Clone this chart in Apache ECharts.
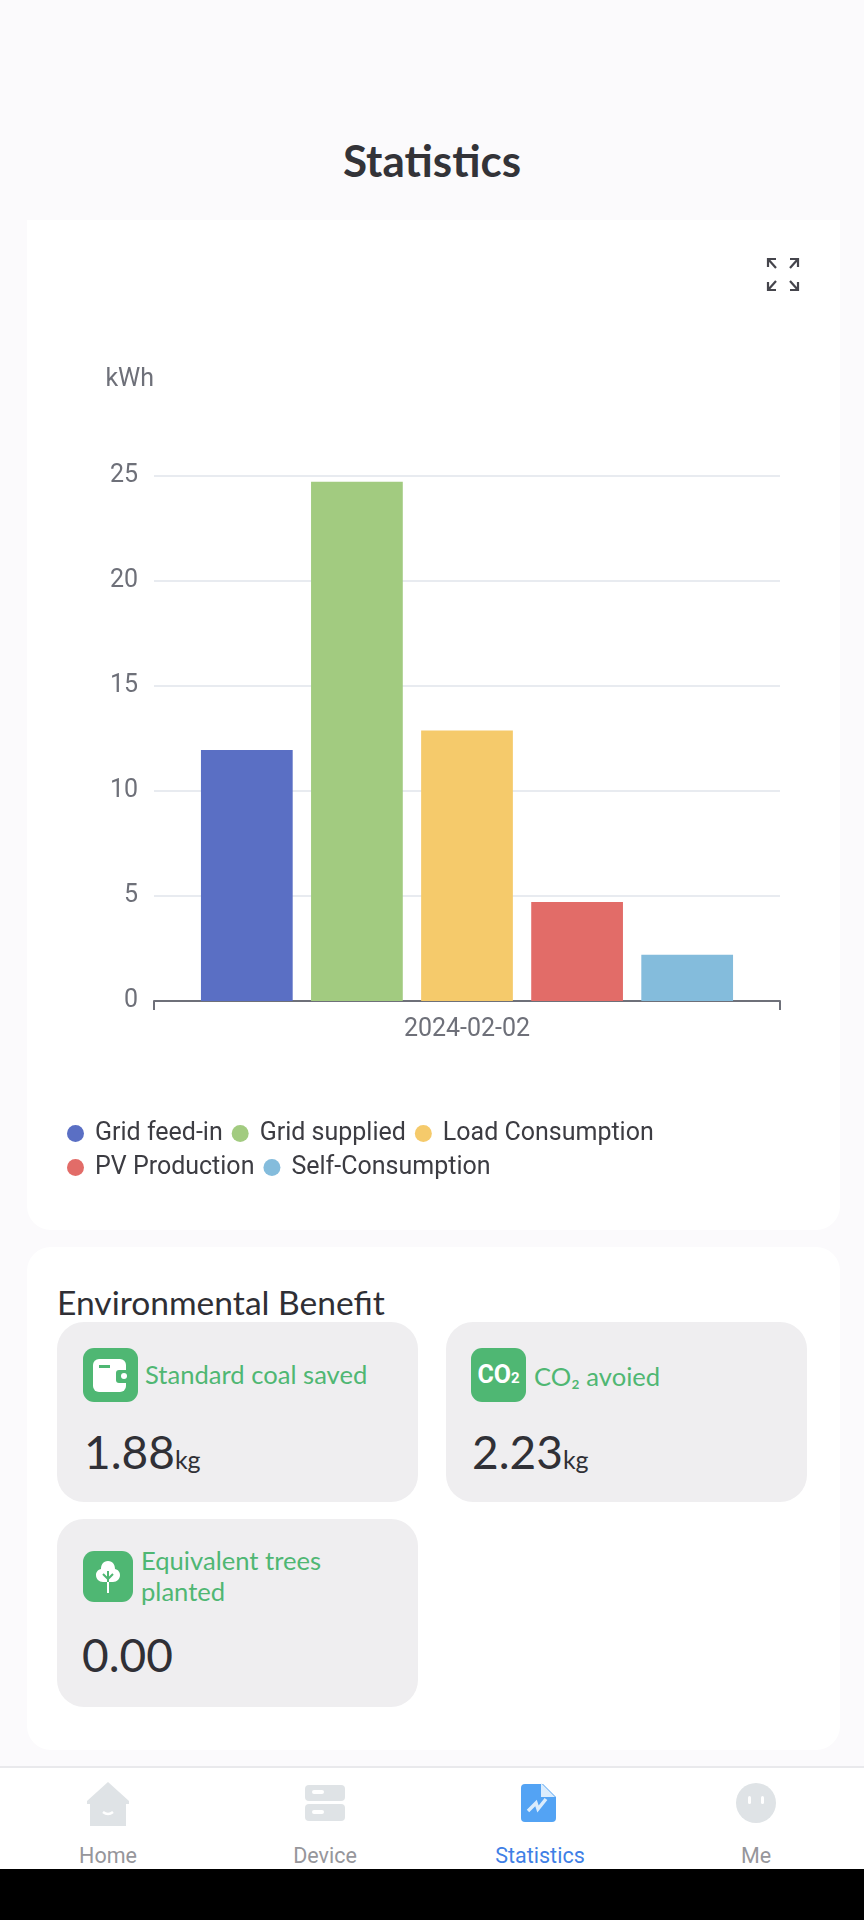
<!DOCTYPE html>
<html>
<head>
<meta charset="utf-8">
<title>Statistics</title>
<script src="https://cdn.jsdelivr.net/npm/echarts@6/dist/echarts.min.js"></script>
<style>
html,body{margin:0;padding:0;background:#fbfafc;}
body{position:relative;width:864px;height:1920px;overflow:hidden;font-family:Lato,sans-serif;color:#303036;}
.abs{position:absolute;white-space:nowrap;}
#title{left:0;width:864px;top:133px;text-align:center;font-size:44px;font-weight:700;line-height:54px;color:#333338;}
#chartCard{position:absolute;left:27px;top:220px;width:813px;height:1010px;background:#fff;border-radius:0 0 24px 24px;}
#graph{width:813px;height:1010px;}
#benefitCard{position:absolute;left:27px;top:1247px;width:813px;height:503px;background:#fff;border-radius:24px;}
#benefitTitle{left:57px;top:1282px;font-size:33.6px;line-height:40px;color:#2f2f35;}
.tile{position:absolute;background:#efeef0;border-radius:27px;}
.icon{position:absolute;background:#4fb773;border-radius:11px;}
.lbl{font-size:25.6px;line-height:31px;color:#4fb773;}
.val{font-size:46px;line-height:60px;color:#303036;}
.val span{font-size:25px;}
#nav{position:absolute;left:0;top:1766px;width:864px;height:103px;background:#fff;border-top:2px solid #e9e9ec;box-sizing:border-box;}
#black{position:absolute;left:0;top:1869px;width:864px;height:51px;background:#000;}
.navt{width:160px;text-align:center;top:1842px;font:21.5px/28px Roboto,sans-serif;color:#96969b;}
</style>
</head>
<body>
<div class="abs" id="title">Statistics</div>

<div id="chartCard"><div id="graph"></div></div>
<svg class="abs" style="left:765px;top:256px" width="36" height="37" viewBox="0 0 36 37" fill="none" stroke="#45454c" stroke-width="2.2">
  <path d="M3 11V3h8M3 3l8 9"/><path d="M33 11V3h-8M33 3l-8 9"/>
  <path d="M3 26v8h8M3 34l8-9"/><path d="M33 26v8h-8M33 34l-8-9"/>
</svg>

<div id="benefitCard"></div>
<div class="abs" id="benefitTitle">Environmental Benefit</div>

<div class="tile" style="left:57px;top:1322px;width:361px;height:180px"></div>
<div class="tile" style="left:446px;top:1322px;width:361px;height:180px"></div>
<div class="tile" style="left:57px;top:1519px;width:361px;height:188px"></div>

<div class="icon" style="left:83px;top:1348px;width:55px;height:54px">
  <svg width="55" height="54" viewBox="0 0 55 54"><rect x="10" y="11" width="33" height="33" rx="6" fill="#fff"/><rect x="16" y="17" width="11" height="3" fill="#4fb773"/><rect x="33" y="22" width="16" height="13" rx="3" fill="#4fb773"/><circle cx="41" cy="28" r="3" fill="#fff"/></svg>
</div>
<div class="icon" style="left:471px;top:1348px;width:55px;height:54px;color:#fff;font:700 25px/54px 'Liberation Sans Narrow',Roboto,sans-serif;text-align:center">CO<span style="font-size:15px">2</span></div>
<div class="icon" style="left:83px;top:1551px;width:50px;height:51px">
  <svg width="50" height="51" viewBox="0 0 50 51"><path d="M25 10c5 0 7 4 7 8 4 1 5 4 5 6 0 4-3 7-7 7H20c-4 0-7-3-7-7 0-2 1-5 5-6 0-4 2-8 7-8z" fill="#fff"/><path d="M25 20v22" stroke="#4fb773" stroke-width="2"/><path d="M25 31v11" stroke="#fff" stroke-width="2"/><path d="M20 23l5 5 5-5" fill="none" stroke="#4fb773" stroke-width="2"/></svg>
</div>

<div id="benefits"></div>

<div id="nav"></div>
<svg class="abs" style="left:84px;top:1780px" width="48" height="46" viewBox="0 0 48 46"><path d="M24 2L45 21v3h-3v22H6V24H3v-3z" fill="#dfe3e6"/><path d="M19 32q5 4 10 0" stroke="#fff" stroke-width="2.5" fill="none"/></svg>
<svg class="abs" style="left:304px;top:1784px" width="42" height="38" viewBox="0 0 42 38"><rect x="1" y="1" width="40" height="16" rx="4" fill="#dfe3e6"/><rect x="1" y="20" width="40" height="17" rx="4" fill="#dfe3e6"/><rect x="8" y="6" width="12" height="4" rx="2" fill="#fff"/><rect x="8" y="26" width="12" height="4" rx="2" fill="#fff"/></svg>
<svg class="abs" style="left:520px;top:1783px" width="40" height="40" viewBox="0 0 40 40"><path d="M5 1h18l13 13v21a4 4 0 0 1-4 4H5a4 4 0 0 1-4-4V5a4 4 0 0 1 4-4z" fill="#53a3f4"/><path d="M21 0l14 14H21z" fill="#dbecfc"/><path d="M8 28l8-8 2 6 8-10" stroke="#dbecfc" stroke-width="3.5" fill="none"/></svg>
<svg class="abs" style="left:736px;top:1783px" width="40" height="40" viewBox="0 0 40 40"><ellipse cx="20" cy="20" rx="20" ry="20" fill="#dfe3e6"/><rect x="12" y="13" width="3" height="8" rx="1.5" fill="#fff"/><rect x="25" y="13" width="3" height="8" rx="1.5" fill="#fff"/></svg>
<div class="abs navt" style="left:28px">Home</div>
<div class="abs navt" style="left:245px">Device</div>
<div class="abs navt" style="left:460px;color:#3f7fe6">Statistics</div>
<div class="abs navt" style="left:676px">Me</div>
<div id="black"></div>

<script>
var categories = ['2024-02-02'];
var seriesNames = ['Grid feed-in', 'Grid supplied', 'Load Consumption', 'PV Production', 'Self-Consumption'];
var seriesValues = [11.95, 24.73, 12.88, 4.72, 2.2];
var seriesColors = ['#5a6fc4', '#a2cb80', '#f5ca6b', '#e26c68', '#84bcdc'];
var yTicks = {min: 0, max: 25, interval: 5};

var benefitLabels = ['Standard coal saved', 'CO\u2082 avoied', 'Equivalent trees<br>planted'];
var benefitValues = ['1.88', '2.23', '0.00'];
var benefitUnits = ['kg', 'kg', ''];

/***********环保卡片**************************/
var labelPos = [[145, 1359], [534, 1361], [141, 1545]];
var valuePos = [[84, 1422], [472, 1422], [82, 1625]];
var box = document.getElementById('benefits');
benefitLabels.forEach(function (txt, i) {
    var l = document.createElement('div');
    l.className = 'abs lbl';
    l.style.left = labelPos[i][0] + 'px';
    l.style.top = labelPos[i][1] + 'px';
    l.innerHTML = txt;
    box.appendChild(l);
    var v = document.createElement('div');
    v.className = 'abs val';
    v.style.left = valuePos[i][0] + 'px';
    v.style.top = valuePos[i][1] + 'px';
    v.innerHTML = benefitValues[i] + (benefitUnits[i] ? '<span>' + benefitUnits[i] + '</span>' : '');
    box.appendChild(v);
});

/***********图表**************************/
var grapChart = echarts.init(document.getElementById('graph'));
grapChart.setOption({
    animation: false,
    textStyle: {fontFamily: 'Roboto'},
    legend: {
        left: 40,
        top: 901,
        width: 680,
        padding: 0,
        icon: 'circle',
        itemWidth: 17,
        itemHeight: 17,
        itemGap: 9,
        textStyle: {fontFamily: 'Roboto', fontSize: 25, color: '#3c3c42', lineHeight: 25, padding: [0, 0, 0, 6]},
        data: seriesNames
    },
    grid: {left: 127, right: 60, top: 256, bottom: 229, containLabel: false},
    xAxis: {
        type: 'category',
        data: categories,
        axisLine: {lineStyle: {color: '#6e7079', width: 2}},
        axisTick: {show: true, length: 9, alignWithLabel: false, lineStyle: {color: '#6e7079', width: 2}},
        axisLabel: {fontSize: 25, color: '#6e7079', margin: 16, fontFamily: 'Roboto'}
    },
    yAxis: {
        type: 'value',
        min: yTicks.min,
        max: yTicks.max,
        interval: yTicks.interval,
        name: 'kWh',
        nameGap: 84,
        nameTextStyle: {fontSize: 25, color: '#6e7079', align: 'right', fontFamily: 'Roboto'},
        axisLabel: {fontSize: 25, color: '#6e7079', margin: 16, padding: [2, 0, 0, 0], fontFamily: 'Roboto'},
        splitLine: {lineStyle: {color: '#e8ebf0', width: 2}}
    },
    series: seriesNames.map(function (name, i) {
        return {
            name: name,
            type: 'bar',
            barGap: '20%',
            barCategoryGap: '15%',
            itemStyle: {color: seriesColors[i]},
            data: [seriesValues[i]]
        };
    })
});
</script>
</body>
</html>
